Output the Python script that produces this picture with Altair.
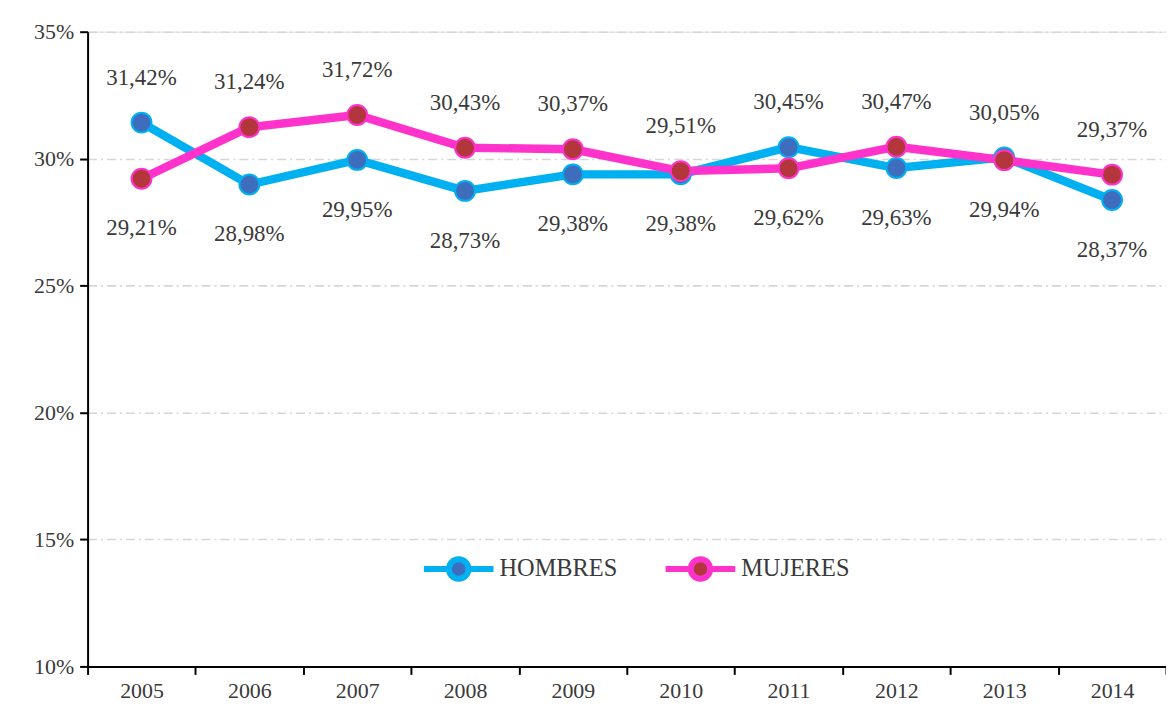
import altair as alt
import pandas as pd

years = ["2005", "2006", "2007", "2008", "2009", "2010", "2011", "2012", "2013", "2014"]
hombres = [31.42, 28.98, 29.95, 28.73, 29.38, 29.38, 30.45, 29.63, 30.05, 28.37]
mujeres = [29.21, 31.24, 31.72, 30.43, 30.37, 29.51, 29.62, 30.47, 29.94, 29.37]
series = ["HOMBRES", "MUJERES"]
line_colors = ["#00B0F0", "#FF33CC"]
point_colors = ["#3F6DBE", "#B3363C"]
y_ticks = [10, 15, 20, 25, 30, 35]

rows = []
for i, yr in enumerate(years):
    h, m = hombres[i], mujeres[i]
    rows.append(dict(year=yr, serie="HOMBRES", value=h, pos="above" if h >= m else "below"))
    rows.append(dict(year=yr, serie="MUJERES", value=m, pos="above" if m > h else "below"))
df = pd.DataFrame(rows)
df["label"] = df["value"].map(lambda v: f"{v:.2f}".replace(".", ",") + "%")

FONT = "Liberation Serif"
TXT = "#3A3A3A"

x_enc = alt.X(
    "year:N",
    bandPosition=0.5,
    scale=alt.Scale(type="band", paddingInner=0, paddingOuter=0),
    axis=alt.Axis(
        title=None, labelAngle=0, tickBand="extent", grid=False,
        domainColor="black", domainWidth=2, tickColor="black", tickWidth=2, tickSize=8,
        labelFont=FONT, labelFontSize=22, labelColor=TXT, labelPadding=6,
    ),
)
y_enc = alt.Y(
    "value:Q",
    scale=alt.Scale(domain=[10, 35], nice=False, zero=False),
    axis=alt.Axis(
        title=None, values=y_ticks, labelExpr="datum.value + '%'",
        grid=True, gridColor="#D6D6D6", gridWidth=1.6, gridDash=[9, 4, 2, 4],
        domainColor="black", domainWidth=2, tickColor="black", tickWidth=2, tickSize=8,
        labelFont=FONT, labelFontSize=22, labelColor=TXT, labelPadding=6,
    ),
)

legend_path = ("M-1,0 L-0.28,0 M0.28,0 L1,0 "
               "M-0.28,0 A0.28,0.28 0 1,1 0.28,0 A0.28,0.28 0 1,1 -0.28,0 Z")
legend_kw = dict(
    title=None, orient="none", legendX=335, legendY=502, direction="horizontal",
    symbolType=legend_path, symbolSize=4900, symbolStrokeWidth=6,
    labelFont=FONT, labelFontSize=24.5, labelColor=TXT, columnPadding=36, labelOffset=3,
)

color_enc = alt.Color("serie:N", scale=alt.Scale(domain=series, range=line_colors),
                      legend=alt.Legend(**legend_kw))
fill_enc = alt.Fill("serie:N", scale=alt.Scale(domain=series, range=point_colors),
                    legend=alt.Legend(**legend_kw))

base = alt.Chart(df)

lines = base.mark_line(strokeWidth=8.5, strokeCap="round", strokeJoin="round").encode(
    x=x_enc, y=y_enc, color=color_enc, detail="serie:N"
)
points = base.mark_point(filled=False, size=400, strokeWidth=2, opacity=1).encode(
    x=x_enc, y=y_enc,
    stroke=alt.Stroke("serie:N", scale=alt.Scale(domain=series, range=line_colors), legend=None),
    fill=fill_enc,
)
above = base.transform_filter("datum.pos == 'above'").mark_text(
    dy=-45, font=FONT, fontSize=23, color=TXT
).encode(x=x_enc, y=y_enc, text="label:N")
below = base.transform_filter("datum.pos == 'below'").mark_text(
    dy=50, font=FONT, fontSize=23, color=TXT
).encode(x=x_enc, y=y_enc, text="label:N")

chart = alt.layer(lines, points, above, below).properties(
    width=1084, height=638, autosize="none",
    padding={"left": 80, "top": 22, "right": 0, "bottom": 45},
).configure_view(stroke=None).configure(background="white")

chart.save("out.html", embed_options={"renderer": "svg", "actions": False})
